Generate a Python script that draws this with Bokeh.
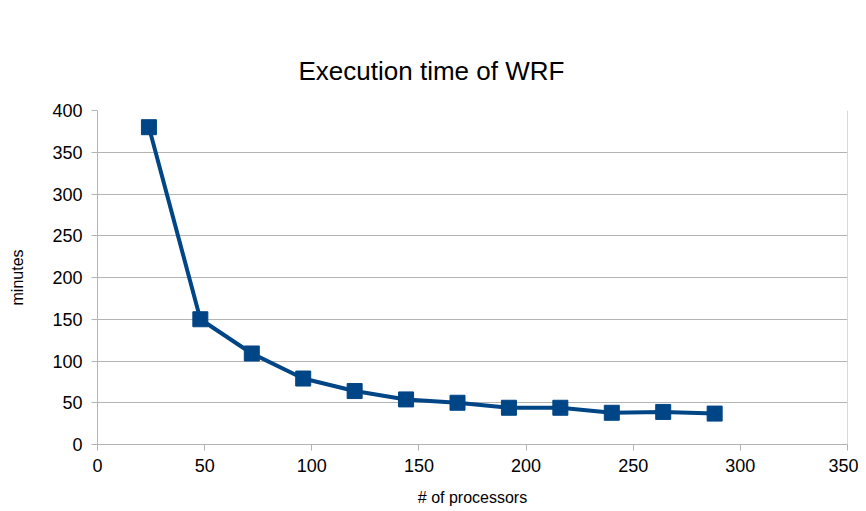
from bokeh.plotting import figure
from bokeh.models import Span, FixedTicker, Range1d
from bokeh.embed import file_html
from bokeh.resources import INLINE

processors = [24, 48, 72, 96, 120, 144, 168, 192, 216, 240, 264, 288]
minutes = [380, 150, 109, 79, 64, 54, 50, 44, 44, 38, 39, 37]
x_ticks = [0, 50, 100, 150, 200, 250, 300, 350]
y_ticks = [0, 50, 100, 150, 200, 250, 300, 350, 400]

FONT = "Liberation Sans"
BLUE = "#004586"
GRID = "#b3b3b3"

p = figure(width=858, height=508, output_backend="svg", toolbar_location=None,
           x_range=Range1d(0, 350), y_range=Range1d(0, 400),
           title="Execution time of WRF",
           min_border_left=97, min_border_right=11, min_border_top=110, min_border_bottom=64)

p.title.text_font = FONT
p.title.text_font_size = "26px"
p.title.text_font_style = "normal"
p.title.text_color = "black"
p.title.align = "left"
p.title.offset = 201
p.title.standoff = 49

p.outline_line_color = None
p.background_fill_color = "white"
p.border_fill_color = "white"

p.xgrid.grid_line_color = None
p.ygrid.grid_line_color = GRID
p.ygrid.grid_line_width = 1

for ax in (p.xaxis[0], p.yaxis[0]):
    ax.axis_line_color = GRID
    ax.major_tick_line_color = GRID
    ax.minor_tick_line_color = None
    ax.major_tick_out = 6
    ax.major_tick_in = 0
    ax.major_label_text_font = FONT
    ax.major_label_text_font_size = "18px"
    ax.major_label_text_color = "black"
    ax.axis_label_text_font = FONT
    ax.axis_label_text_font_size = "16px"
    ax.axis_label_text_font_style = "normal"
    ax.axis_label_text_color = "black"

p.xaxis.ticker = FixedTicker(ticks=x_ticks)
p.yaxis.ticker = FixedTicker(ticks=y_ticks)
p.xaxis.axis_label = "# of processors"
p.yaxis.axis_label = "minutes"
p.xaxis.major_label_standoff = 8
p.yaxis.major_label_standoff = 9
p.xaxis.axis_label_standoff = 14
p.yaxis.axis_label_standoff = 23

p.add_layout(Span(location=350, dimension="height", line_color=GRID, line_width=1))

p.line(processors, minutes, line_color=BLUE, line_width=4)
p.scatter(processors, minutes, marker="square", size=15, fill_color=BLUE, line_color=BLUE)

open("out.html", "w").write(file_html(p, INLINE))
